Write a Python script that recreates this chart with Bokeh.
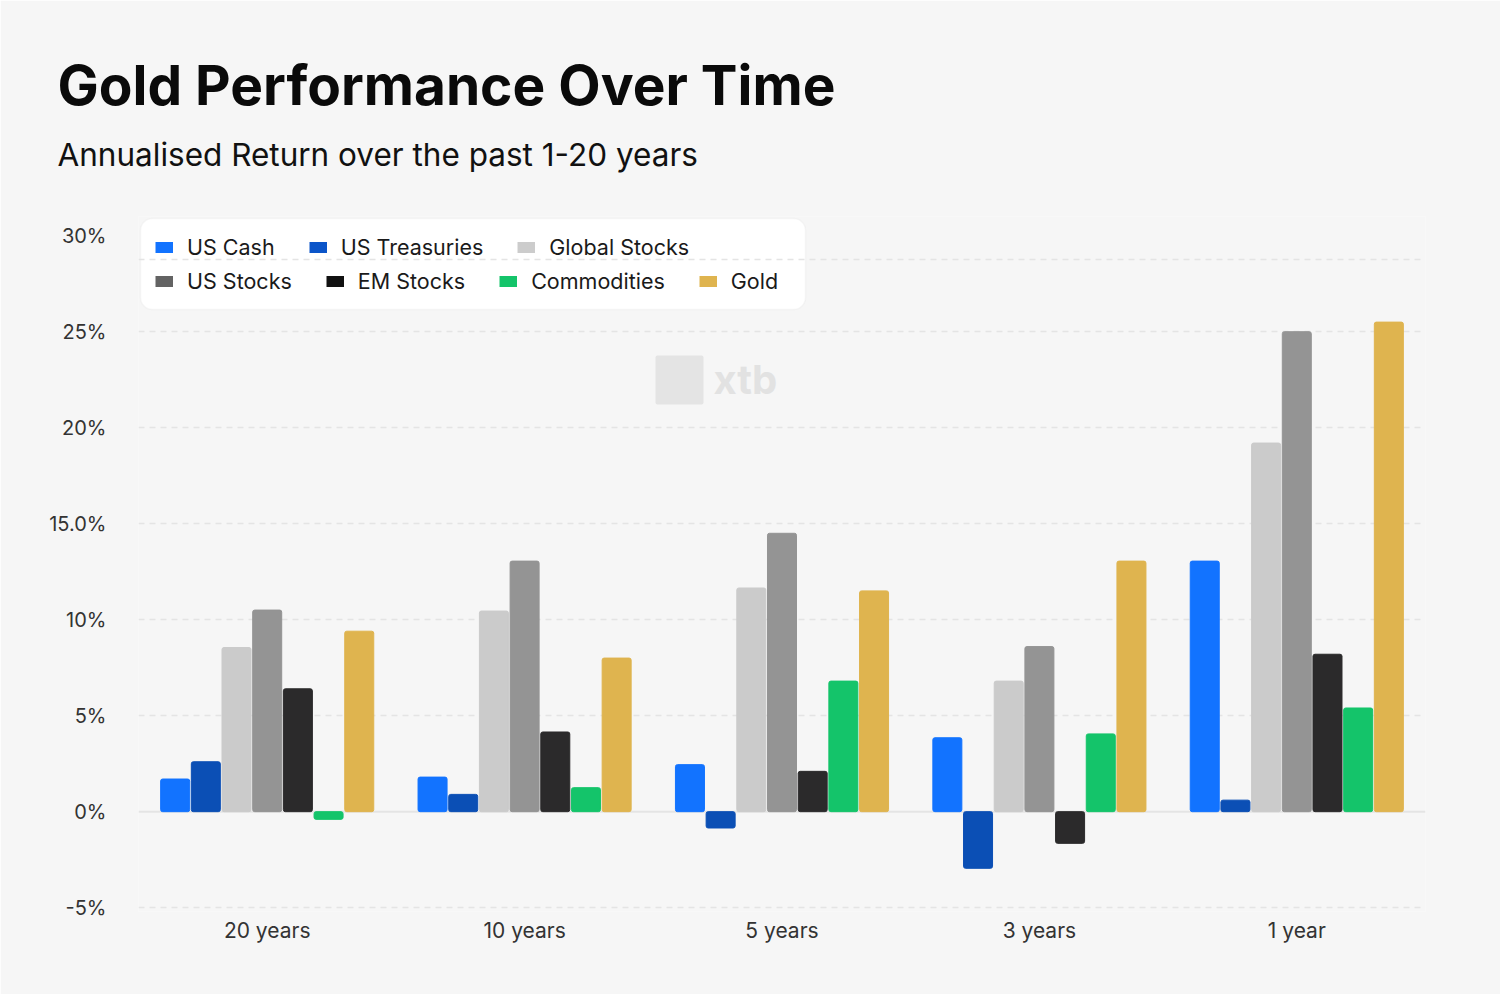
from bokeh.plotting import figure
from bokeh.models import (ColumnDataSource, FactorRange, Range1d, FixedTicker, Legend,
                          LegendItem, BoxAnnotation, Label, Span, Title)
from bokeh.transform import dodge
from bokeh.embed import file_html
from bokeh.resources import INLINE

# ---------------- data ----------------
title_text = "Gold Performance Over Time"
subtitle_text = "Annualised Return over the past 1-20 years"
periods = ["20 years", "10 years", "5 years", "3 years", "1 year"]
series_names = ["US Cash", "US Treasuries", "Global Stocks", "US Stocks",
                "EM Stocks", "Commodities", "Gold"]
us_cash = [1.7, 1.8, 2.45, 3.85, 13.05]
us_treasuries = [2.6, 0.9, -0.85, -2.95, 0.6]
global_stocks = [8.55, 10.45, 11.65, 6.8, 19.2]
us_stocks = [10.5, 13.05, 14.5, 8.6, 25.0]
em_stocks = [6.4, 4.15, 2.1, -1.65, 8.2]
commodities = [-0.4, 1.25, 6.8, 4.05, 5.4]
gold = [9.4, 8.0, 11.5, 13.05, 25.5]
y_ticks = [-5, 0, 5, 10, 15, 20, 25, 30]
y_tick_labels = ["-5%", "0%", "5%", "10%", "15.0%", "20%", "25%", "30%"]

bar_colors = ["#1273ff", "#0b4fb5", "#cbcbcb", "#949494", "#2b2a2b", "#14c46a", "#dfb44f"]
legend_colors = ["#1273ff", "#0b55c9", "#cccccc", "#636363", "#111111", "#14c46a", "#dfb44f"]
legend_rows = [series_names[:3], series_names[3:]]

FONT = "Inter"
BG = "#f6f6f6"

source = ColumnDataSource(dict(
    period=periods,
    us_cash=us_cash,
    us_treasuries=us_treasuries,
    global_stocks=global_stocks,
    us_stocks=us_stocks,
    em_stocks=em_stocks,
    commodities=commodities,
    gold=gold,
))
cols = ["us_cash", "us_treasuries", "global_stocks", "us_stocks", "em_stocks", "commodities", "gold"]

p = figure(width=1500, height=994, output_backend="svg", toolbar_location=None,
           x_range=FactorRange(*periods, range_padding=0), y_range=Range1d(-5.2, 31),
           min_border_left=138, min_border_right=75, min_border_top=216, min_border_bottom=83)
p.background_fill_color = BG
p.border_fill_color = BG
p.outline_line_color = None

# titles (above panel)
p.add_layout(Title(text=subtitle_text, align="left", offset=-81, text_font=FONT,
                   text_font_size="31.5px", text_font_style="normal",
                   text_color="#111111", standoff=85), "above")
p.add_layout(Title(text=title_text, align="left", offset=-81, text_font=FONT,
                   text_font_size="55px", text_font_style="bold",
                   text_color="#0a0a0a", standoff=-54), "above")

# watermark
p.add_layout(BoxAnnotation(left=517, right=565, top=556, bottom=507,
                           left_units="screen", right_units="screen",
                           top_units="screen", bottom_units="screen",
                           fill_color="#e4e4e4", fill_alpha=1, line_color=None,
                           border_radius=2, level="underlay"))
p.add_layout(Label(x=575, y=532, x_units="screen", y_units="screen", text="xtb",
                   text_font=FONT, text_font_style="bold", text_font_size="40px",
                   text_color="#e2e2e2", text_baseline="middle", level="underlay"))

# grid
p.xgrid.grid_line_color = None
p.ygrid.ticker = FixedTicker(ticks=[t for t in y_ticks if t not in (0, 30)])
p.ygrid.grid_line_color = "#e4e4e4"
p.ygrid.grid_line_width = 1.5
p.ygrid.grid_line_dash = "6 5"
p.add_layout(Span(location=0, dimension="width", line_color="#e4e4e4",
                  line_width=2, level="underlay"))

# bars
step = 0.1192
bw = 0.1127
for i, (col, color) in enumerate(zip(cols, bar_colors)):
    p.vbar(x=dodge("period", (i - 3) * step, range=p.x_range), top=col, bottom=0,
           width=bw, source=source, fill_color=color, line_color=color,
           line_width=1, border_radius=2)

# axes
for ax in (p.xaxis[0], p.yaxis[0]):
    ax.axis_line_color = None
    ax.major_tick_line_color = None
    ax.minor_tick_line_color = None
    ax.major_tick_out = 0
    ax.major_tick_in = 0
    ax.minor_tick_out = 0
    ax.major_label_text_font = FONT
    ax.major_label_text_font_size = "20px"
    ax.major_label_text_color = "#333333"
p.xaxis.major_label_text_font_size = "21px"
p.xaxis.major_label_standoff = 6
p.yaxis.ticker = FixedTicker(ticks=y_ticks)
p.yaxis.major_label_overrides = {t: lab for t, lab in zip(y_ticks, y_tick_labels)}
p.yaxis.major_label_standoff = 32

# legend box
p.add_layout(BoxAnnotation(left=2, right=667, top=693, bottom=602,
                           left_units="screen", right_units="screen",
                           top_units="screen", bottom_units="screen",
                           fill_color="white", fill_alpha=1, line_color="#e5e5e5",
                           line_width=1.5, border_radius=12))
p.add_layout(Span(location=652, location_units="screen", dimension="width",
                  line_color="#e4e4e4", line_width=1.5, line_dash="6 5"))

# legend swatches: line renderers with no visible points, drawn as thick short bars
swatch_src = ColumnDataSource(dict(x=periods[:1], y=[float("nan")]))
swatch = {}
for name, color in zip(series_names, legend_colors):
    swatch[name] = p.line(x="x", y="y", source=swatch_src, line_color=color,
                          line_width=11, line_cap="butt")

legend_y = [651, 617]
for row, ly in zip(legend_rows, legend_y):
    lg = Legend(items=[LegendItem(label=n, renderers=[swatch[n]]) for n in row],
                location=(17, ly), orientation="horizontal",
                glyph_width=18, glyph_height=24, label_height=24,
                label_standoff=14, spacing=34, padding=0, margin=0,
                border_line_alpha=0, background_fill_alpha=0,
                label_text_font=FONT, label_text_font_size="21.5px",
                label_text_color="#1a1a1a")
    p.add_layout(lg)

open("out.html", "w").write(file_html(p, INLINE))
